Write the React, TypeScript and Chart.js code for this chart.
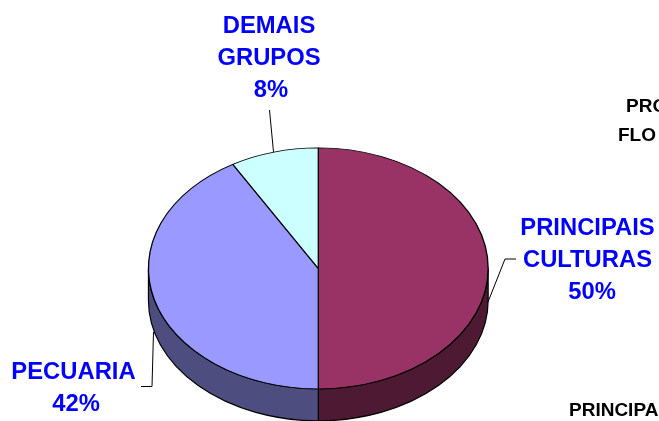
import React, { useEffect, useRef } from "react";
import { Chart, registerables } from "chart.js";

Chart.register(...registerables);

const categories = ["PRINCIPAIS CULTURAS", "PECUARIA", "DEMAIS GRUPOS"];
const shares = [50, 41.6, 8.4];
const topColors = ["#993366", "#9999FF", "#CCFFFF"];
const sideColors = ["#4D1933", "#4D4D80", "#667F7F"];
const cutOffTexts = ["PRO", "FLO", "PRINCIPA"];

const W = 659;
const H = 421;
const CX = 318.3;
const CY = 268.4;
const RY = 120.5;
const DEPTH = 32;

const pie3d = {
  id: "pie3d",
  beforeDatasetsDraw(chart: any) {
    const ctx = chart.ctx;
    const arcs = chart.getDatasetMeta(0).data;
    // extruded rim
    ctx.save();
    arcs.forEach((arc: any, i: number) => {
      const p = arc.getProps(["startAngle", "endAngle", "outerRadius"], true);
      const a = Math.max(p.startAngle, 0);
      const b = Math.min(p.endAngle, Math.PI);
      if (b <= a) return;
      ctx.beginPath();
      ctx.ellipse(CX, CY, p.outerRadius, RY, 0, a, b);
      ctx.ellipse(CX, CY + DEPTH, p.outerRadius, RY, 0, b, a, true);
      ctx.closePath();
      ctx.fillStyle = sideColors[i];
      ctx.fill();
      ctx.strokeStyle = "#000";
      ctx.lineWidth = 1.2;
      ctx.stroke();
    });
    ctx.restore();
    // flatten the library's pie into the tilted top face
    const m = arcs[0];
    ctx.save();
    ctx.translate(CX, CY);
    ctx.scale(1, RY / m.outerRadius);
    ctx.translate(-m.x, -m.y);
  },
  afterDatasetsDraw(chart: any) {
    const ctx = chart.ctx;
    ctx.restore();

    // leader lines
    ctx.save();
    ctx.strokeStyle = "#000";
    ctx.lineWidth = 1;
    const leaders = [
      [[516, 259], [505, 259], [488, 302]],
      [[141, 386.5], [152, 386.5], [153.5, 332]],
      [[269.5, 110], [273.5, 152]],
    ];
    leaders.forEach((pts) => {
      ctx.beginPath();
      pts.forEach(([x, y], j) => (j ? ctx.lineTo(x, y) : ctx.moveTo(x, y)));
      ctx.stroke();
    });

    // blue labels
    ctx.fillStyle = "#0000FF";
    ctx.font = 'bold 23.8px "Liberation Sans"';
    ctx.textAlign = "center";
    ctx.textBaseline = "middle";
    const anchors = [
      [587.5, 228],
      [73.5, 372],
      [269, 26],
    ];
    const percentShift = [4.5, 2.5, 2];
    categories.forEach((name, i) => {
      const words = name.split(" ");
      words.forEach((t, j) => ctx.fillText(t, anchors[i][0], anchors[i][1] + j * 32));
      ctx.fillText(
        Math.round(shares[i]) + "%",
        anchors[i][0] + percentShift[i],
        anchors[i][1] + words.length * 32
      );
    });

    // black text running off the edge of the picture
    ctx.fillStyle = "#000";
    ctx.font = 'bold 19px "Liberation Sans"';
    ctx.textAlign = "left";
    const cutAnchors = [
      [626, 107],
      [618, 136],
      [569, 411],
    ];
    cutOffTexts.forEach((t, i) => ctx.fillText(t, cutAnchors[i][0], cutAnchors[i][1]));
    ctx.restore();
  },
};

export default function App() {
  const ref = useRef<HTMLCanvasElement | null>(null);
  useEffect(() => {
    document.body.style.margin = "0";
    const chart = new Chart(ref.current as HTMLCanvasElement, {
      type: "pie",
      data: {
        labels: categories,
        datasets: [
          {
            data: shares,
            backgroundColor: topColors,
            borderColor: "#000",
            borderWidth: 1.3,
            clip: false,
          } as any,
        ],
      },
      options: {
        responsive: false,
        animation: false,
        layout: { padding: { left: 148, right: 170, top: 0, bottom: 79 } },
        plugins: { legend: { display: false }, tooltip: { enabled: false } },
      },
      plugins: [pie3d],
    } as any);
    return () => chart.destroy();
  }, []);
  return (
    <canvas
      ref={ref}
      width={W}
      height={H}
      style={{ display: "block", width: W, height: H }}
    />
  );
}
